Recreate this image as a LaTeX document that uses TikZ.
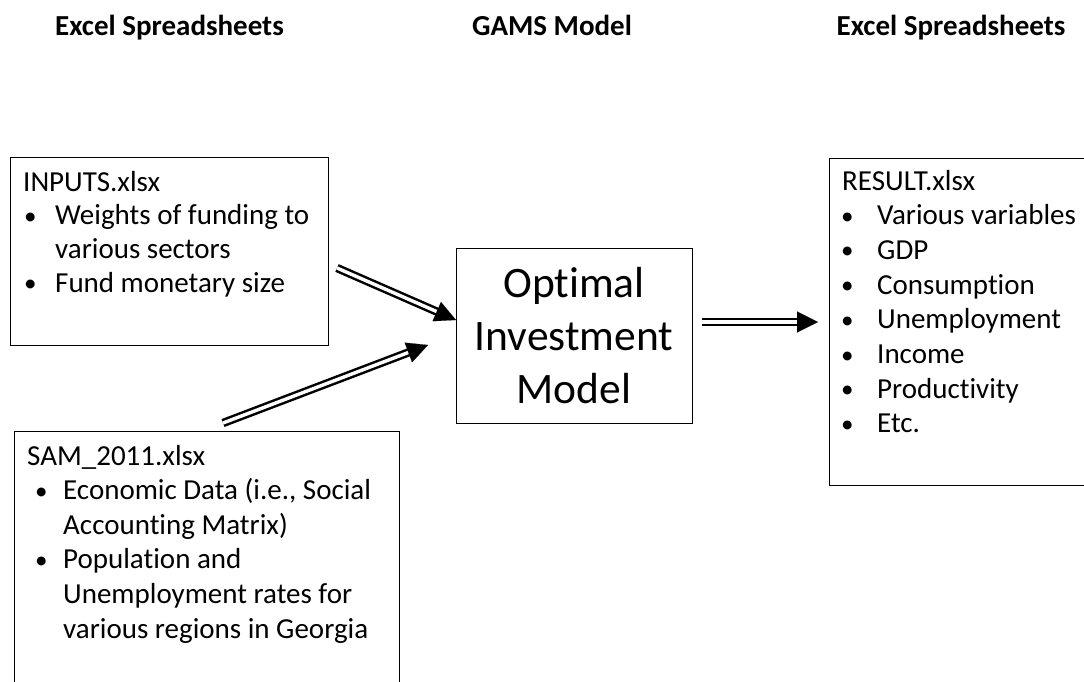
\documentclass[tikz,border=0pt]{standalone}
\usepackage{fontspec}
\setmainfont{Carlito}[Ligatures=NoCommon]
\usetikzlibrary{arrows.meta,calc}
\tikzset{
  box/.style={draw=black, line width=1.3pt, inner sep=0pt, anchor=north west},
  head/.style={font=\fontsize{29}{34}\selectfont\bfseries, anchor=base, inner sep=0pt},
  boxtext/.style={anchor=base west, inner sep=0pt},
  shaft/.style={draw=black, line width=2.5pt, double=white, double distance=3.4pt},
  tip/.style={line width=0.1pt, -{Triangle[length=21pt,width=21pt]}},
}
\newcommand{\dotmark}{{\fontsize{25}{25}\selectfont\raisebox{0.5pt}{•}}}
\newcommand{\bulA}{\makebox[32pt][l]{\hspace{1pt}\dotmark}}
\newcommand{\bulB}{\makebox[36pt][l]{\hspace{8pt}\dotmark}}
\newcommand{\bulC}{\makebox[35pt][l]{\hspace{-1pt}\dotmark}}
\begin{document}
\begin{tikzpicture}[x=1pt,y=-1pt]
\useasboundingbox (0,0) rectangle (1084,681);
% headings
\node[head] (h1) at (169.5,35) {Excel Spreadsheets};
\node[head] (h2) at (552,35) {GAMS Model};
\node[head] (h3) at (951,35) {Excel Spreadsheets};
% boxes
\node[box, minimum width=318pt, minimum height=188pt] (inputs) at (10,157) {};
\node[box, minimum width=385pt, minimum height=270pt] (sam) at (14,431) {};
\node[box, minimum width=236pt, minimum height=175pt] (opt) at (456,248) {};
\node[box, minimum width=270pt, minimum height=327pt] (res) at (829,158) {};
% texts
\node[boxtext] (tin) at (23,191) {\parbox[t]{300pt}{\raggedright\fontsize{29}{33.7}\selectfont
INPUTS.xlsx\\
\bulA Weights of funding to\\
\hspace*{32pt}various sectors\\
\bulA Fund monetary size}};
\node[boxtext] (tsam) at (27,465) {\parbox[t]{380pt}{\raggedright\fontsize{29}{34.6}\selectfont
SAM\_2011.xlsx\\
\bulB Economic Data (i.e., Social\\
\hspace*{36pt}Accounting Matrix)\\
\bulB Population and\\
\hspace*{36pt}Unemployment rates for\\
\hspace*{36pt}various regions in Georgia}};
\node[boxtext] (tres) at (842,190) {\parbox[t]{250pt}{\raggedright\fontsize{29}{34.7}\selectfont
RESULT.xlsx\\
\bulC Various variables\\
\bulC GDP\\
\bulC Consumption\\
\bulC Unemployment\\
\bulC Income\\
\bulC Productivity\\
\bulC Etc.}};
\node[anchor=base, inner sep=0pt, align=center, font=\fontsize{43.5}{53}\selectfont] (topt) at (574,403) {Optimal\\Investment\\Model};
% arrows
\coordinate (a1s) at (337,268);
\coordinate (a1t) at (opt.west |- 0,320);
\coordinate (a2s) at (223,423);
\coordinate (a2t) at (428,345);
\coordinate (a3s) at (702,322);
\coordinate (a3t) at (818,322);
\draw[shaft] (a1s) -- ($(a1t)!19pt!(a1s)$);
\draw[tip] ($(a1t)!20pt!(a1s)$) -- (a1t);
\draw[shaft] (a2s) -- ($(a2t)!19pt!(a2s)$);
\draw[tip] ($(a2t)!20pt!(a2s)$) -- (a2t);
\draw[shaft] (a3s) -- ($(a3t)!19pt!(a3s)$);
\draw[tip] ($(a3t)!20pt!(a3s)$) -- (a3t);
\end{tikzpicture}
\end{document}
